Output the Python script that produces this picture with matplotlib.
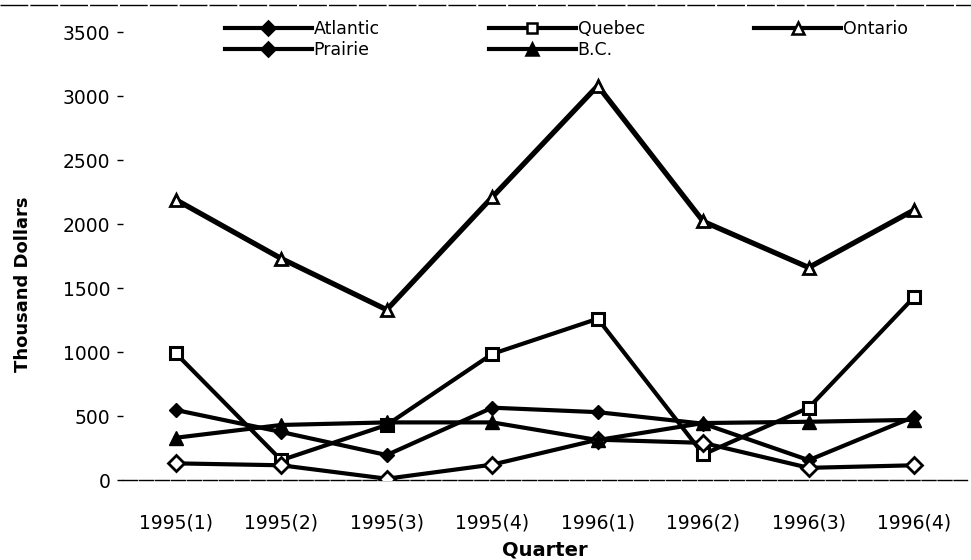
import matplotlib
matplotlib.use("Agg")
import matplotlib.pyplot as plt
from matplotlib.lines import Line2D

quarters = ["1995(1)", "1995(2)", "1995(3)", "1995(4)",
            "1996(1)", "1996(2)", "1996(3)", "1996(4)"]
atlantic = [130, 115, 10, 120, 315, 290, 95, 115]
quebec = [990, 155, 430, 985, 1260, 200, 565, 1430]
ontario = [2190, 1730, 1330, 2210, 3080, 2020, 1660, 2110]
prairie = [547, 375, 195, 565, 530, 440, 155, 495]
bc = [330, 430, 450, 450, 312, 445, 455, 470]
yticks = [0, 500, 1000, 1500, 2000, 2500, 3000, 3500]

W, H = 971, 560
fig = plt.figure(figsize=(W / 100, H / 100), dpi=100)
ax = fig.add_axes([123 / W, 80 / H, (967 - 123) / W, 448 / H])

x = list(range(len(quarters)))
lw = 3.0
ax.plot(x, ontario, color="black", lw=lw + 0.8, marker="^", ms=9,
        mfc="white", mec="black", mew=2, zorder=3)
ax.plot(x, quebec, color="black", lw=lw, marker="s", ms=8,
        mfc="white", mec="black", mew=2.2, zorder=3)
ax.plot(x, prairie, color="black", lw=lw, marker="D", ms=7.5,
        mfc="black", mec="black", zorder=3)
ax.plot(x, bc, color="black", lw=lw, marker="^", ms=10,
        mfc="black", mec="black", zorder=5)
ax.plot(x, atlantic, color="black", lw=lw, marker="D", ms=8.5,
        mfc="white", mec="black", mew=2, zorder=4)

ax.set_xlim(-0.5, len(quarters) - 0.5)
ax.set_ylim(0, 3500)
ax.set_yticks(yticks)
ax.set_yticklabels([str(v) for v in yticks], fontsize=13.5)
ax.set_xticks(x)
ax.set_xticklabels(quarters, fontsize=13.5)
ax.tick_params(axis="x", length=0, pad=24)
ax.tick_params(axis="y", length=4, width=1, pad=5, direction="out")

for s in ["top", "right", "left"]:
    ax.spines[s].set_visible(False)
ax.spines["bottom"].set_linewidth(1.0)
ax.spines["bottom"].set_linestyle((0, (10, 1.5)))

fig.text(23 / W, 1 - 284 / H, "Thousand Dollars", rotation=90,
         fontsize=13, fontweight="bold", ha="center", va="center")
fig.text(545 / W, 1 - 550 / H, "Quarter", fontsize=14,
         fontweight="bold", ha="center", va="center")

# top border line of the chart
fig.add_artist(Line2D([0, 1], [1 - 5 / H, 1 - 5 / H], color="black",
                      lw=1.0, ls=(0, (20, 1.5))))

def h(marker, fill, ms):
    return Line2D([], [], color="black", lw=3, marker=marker, ms=ms,
                  mfc=fill, mec="black", mew=1.8)

handles = [h("D", "black", 7), h("D", "black", 7), h("s", "white", 7),
           h("^", "black", 8), h("^", "white", 8)]
labels = ["Atlantic", "Prairie", "Quebec", "B.C.", "Ontario"]
fig.legend(handles, labels, ncol=3, loc="upper left",
           bbox_to_anchor=(225 / W, 1 - 20 / H), frameon=False,
           fontsize=12.5, handlelength=5.0, handletextpad=0.1,
           columnspacing=6.3, labelspacing=0.15, borderpad=0,
           borderaxespad=0)

fig.savefig("out.png", dpi=100, facecolor="white")
